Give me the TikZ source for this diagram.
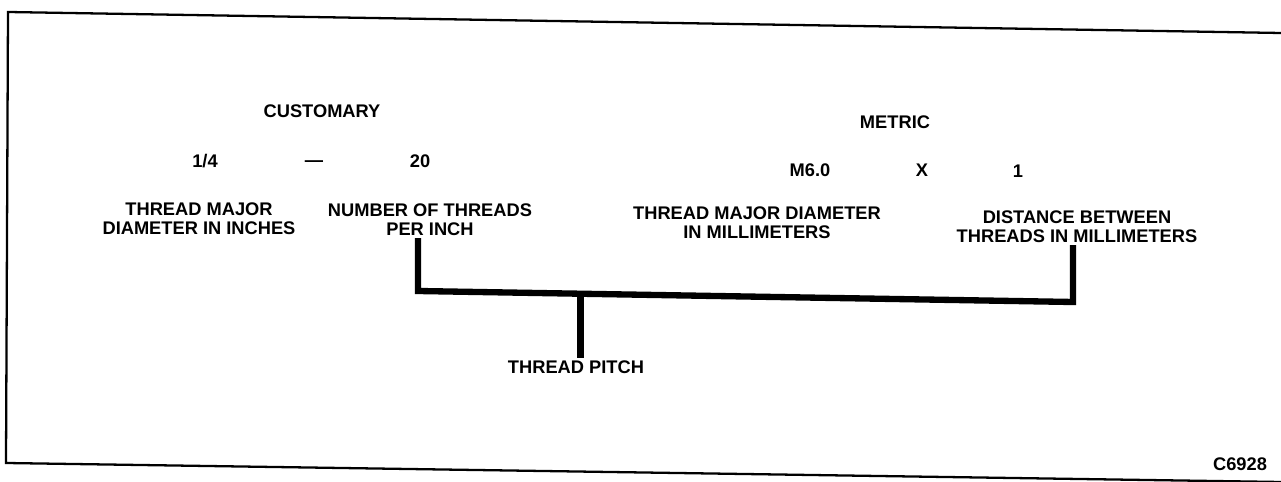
\documentclass[tikz,border=0pt]{standalone}
\usepackage{fontspec}
\setmainfont{Liberation Sans}
\usetikzlibrary{positioning,calc}

\tikzset{
  lbl/.style={font=\fontsize{10.4}{10.8}\selectfont\bfseries, align=center, inner sep=1pt},
  frame/.style={line width=1.3pt},
  brace/.style={line width=3.6pt, line cap=butt, line join=miter}
}

\begin{document}
\begin{tikzpicture}[x=0.02cm, y=-0.02cm]
  \useasboundingbox (0,0) rectangle (1281,482);

  % Outer frame (scanned, slightly skewed)
  \draw[frame] (1281,33) -- (8,12) -- (6,463) -- (1281,482);

  % Customary side
  \node[lbl] (cust) at (322,111) {CUSTOMARY};
  \node[lbl] (quarter) at (205,161) {1/4};
  \node[lbl] (dash) at (314,164) {---};
  \node[lbl] (tpi) at (420,161) {20};
  \node[lbl] (majin) at (199,219) {THREAD MAJOR\\DIAMETER IN INCHES};
  \node[lbl] (numthr) at (430,220) {NUMBER OF THREADS\\PER INCH};

  % Metric side
  \node[lbl] (metric) at (895,122) {METRIC};
  \node[lbl] (msize) at (810,170) {M6.0};
  \node[lbl] (times) at (922,170) {X};
  \node[lbl] (pitch) at (1018,171) {1};
  \node[lbl] (majmm) at (757,223) {THREAD MAJOR DIAMETER\\IN MILLIMETERS};
  \node[lbl] (dist) at (1077,227) {DISTANCE BETWEEN\\THREADS IN MILLIMETERS};

  % Bracket to thread pitch
  \node[lbl] (tp) at (576,367) {THREAD PITCH};
  \coordinate (bl) at (418,291);
  \coordinate (br) at (1073,302);
  \coordinate (bm) at ($(bl)!0.248!(br)$);
  \draw[brace] (numthr.south -| bl) -- (bl) -- (br) -- (dist.south -| br);
  \draw[brace] (bm) -- (bm |- tp.north);

  % Figure number
  \node[lbl] (fig) at (1240,464) {C6928};
\end{tikzpicture}
\end{document}
